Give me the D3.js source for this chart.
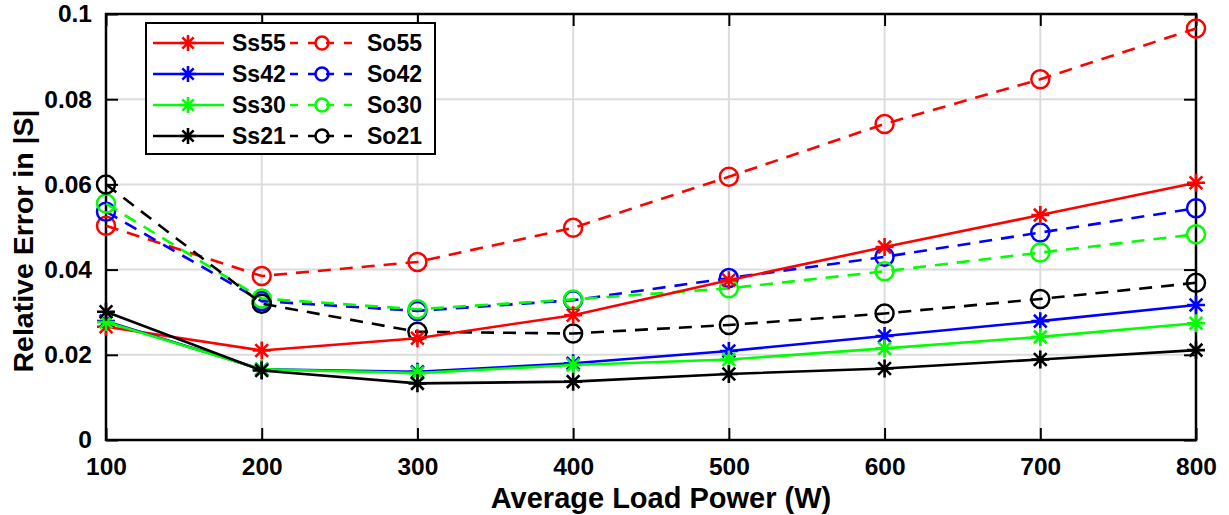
<!DOCTYPE html>
<html>
<head>
<meta charset="utf-8">
<script src="https://cdn.jsdelivr.net/npm/d3@7"></script>
<style>
  body { margin: 0; background: #fff; }
  text { font-family: "Liberation Sans", Arial, sans-serif; font-weight: bold; }
</style>
</head>
<body>
<script>
// Data
const power = [100, 200, 300, 400, 500, 600, 700, 800];
const ss55 = [0.0266, 0.0210, 0.0239, 0.0293, 0.0375, 0.0453, 0.0528, 0.0604];
const ss42 = [0.0279, 0.0166, 0.0160, 0.0180, 0.0209, 0.0244, 0.0279, 0.0317];
const ss30 = [0.0277, 0.0166, 0.0157, 0.0176, 0.0189, 0.0215, 0.0242, 0.0274];
const ss21 = [0.0301, 0.0163, 0.0133, 0.0137, 0.0155, 0.0168, 0.0189, 0.0211];
const so55 = [0.0503, 0.0385, 0.0418, 0.0498, 0.0618, 0.0742, 0.0847, 0.0966];
const so42 = [0.0536, 0.0326, 0.0303, 0.0328, 0.0380, 0.0430, 0.0487, 0.0544];
const so30 = [0.0555, 0.0332, 0.0307, 0.0330, 0.0356, 0.0396, 0.0440, 0.0483];
const so21 = [0.0600, 0.0320, 0.0254, 0.0250, 0.0270, 0.0297, 0.0331, 0.0369];
const yTicks = [0, 0.02, 0.04, 0.06, 0.08, 0.1];

const series = [
  { name: 'Ss55', values: ss55, color: '#ff0000', dashed: false },
  { name: 'So55', values: so55, color: '#ff0000', dashed: true },
  { name: 'Ss42', values: ss42, color: '#0000ff', dashed: false },
  { name: 'So42', values: so42, color: '#0000ff', dashed: true },
  { name: 'Ss30', values: ss30, color: '#00ff00', dashed: false },
  { name: 'So30', values: so30, color: '#00ff00', dashed: true },
  { name: 'Ss21', values: ss21, color: '#000000', dashed: false },
  { name: 'So21', values: so21, color: '#000000', dashed: true }
];

const width = 1229;
const height = 515;
const margin = { left: 106, right: 33, top: 14, bottom: 75 };

const x = d3.scaleLinear().domain([100, 800]).range([margin.left, width - margin.right]);
const y = d3.scaleLinear().domain([0, 0.1]).range([height - margin.bottom, margin.top]);

const svg = d3.select('body').append('svg')
  .attr('width', width)
  .attr('height', height);

// grid
const grid = svg.append('g');
grid.selectAll('.gx').data(power).enter().append('line')
  .attr('x1', d => x(d)).attr('x2', d => x(d))
  .attr('y1', y(0)).attr('y2', y(0.1))
  .attr('stroke', '#dcdcdc').attr('stroke-width', 2);
grid.selectAll('.gy').data(yTicks).enter().append('line')
  .attr('x1', x(100)).attr('x2', x(800))
  .attr('y1', d => y(d)).attr('y2', d => y(d))
  .attr('stroke', '#dcdcdc').attr('stroke-width', 2);

// axes (ticks inward, box)
const tickLen = 12;
const tickFont = g => g.selectAll('text').attr('font-size', 24.5).attr('fill', '#000')
  .style('font-family', '"Liberation Sans", Arial, sans-serif').style('font-weight', 'bold');

svg.append('g')
  .attr('transform', `translate(0,${y(0)})`)
  .call(d3.axisBottom(x).tickValues(power).tickSizeInner(-tickLen).tickSizeOuter(0).tickPadding(18))
  .call(g => g.select('.domain').remove())
  .call(g => g.selectAll('line').attr('stroke', '#000').attr('stroke-width', 2))
  .call(tickFont);

svg.append('g')
  .attr('transform', `translate(0,${y(0.1)})`)
  .call(d3.axisTop(x).tickValues(power).tickSizeInner(-tickLen).tickSizeOuter(0).tickFormat(''))
  .call(g => g.select('.domain').remove())
  .call(g => g.selectAll('line').attr('stroke', '#000').attr('stroke-width', 2));

svg.append('g')
  .attr('transform', `translate(${x(100)},0)`)
  .call(d3.axisLeft(y).tickValues(yTicks).tickSizeInner(-tickLen).tickSizeOuter(0).tickPadding(14)
    .tickFormat(d => d === 0 ? '0' : d3.format('~g')(d)))
  .call(g => g.select('.domain').remove())
  .call(g => g.selectAll('line').attr('stroke', '#000').attr('stroke-width', 2))
  .call(tickFont);

svg.append('g')
  .attr('transform', `translate(${x(800)},0)`)
  .call(d3.axisRight(y).tickValues(yTicks).tickSizeInner(-tickLen).tickSizeOuter(0).tickFormat(''))
  .call(g => g.select('.domain').remove())
  .call(g => g.selectAll('line').attr('stroke', '#000').attr('stroke-width', 2));

svg.append('rect')
  .attr('x', x(100)).attr('y', y(0.1))
  .attr('width', x(800) - x(100)).attr('height', y(0) - y(0.1))
  .attr('fill', 'none').attr('stroke', '#000').attr('stroke-width', 2.5);

// axis labels
svg.append('text')
  .attr('x', 661).attr('y', 508)
  .attr('text-anchor', 'middle').attr('font-size', 29)
  .text('Average Load Power (W)');
svg.append('text')
  .attr('transform', 'translate(33,241) rotate(-90)')
  .attr('text-anchor', 'middle').attr('font-size', 28.5)
  .text('Relative Error in |S|');

// markers
const star = (g, cx, cy, color, r) => {
  const d = r * Math.SQRT1_2;
  const path = `M${cx - r},${cy}L${cx + r},${cy}M${cx},${cy - r}L${cx},${cy + r}` +
    `M${cx - d},${cy - d}L${cx + d},${cy + d}M${cx - d},${cy + d}L${cx + d},${cy - d}`;
  g.append('path').attr('d', path).attr('stroke', color).attr('stroke-width', 2.6).attr('fill', 'none');
};
const circle = (g, cx, cy, color, r) => {
  g.append('circle').attr('cx', cx).attr('cy', cy).attr('r', r)
    .attr('fill', 'none').attr('stroke', color).attr('stroke-width', 2.5);
};

const line = d3.line().x((d, i) => x(power[i])).y(d => y(d));
const plotG = svg.append('g');
const drawOrder = [1, 3, 5, 7, 0, 2, 4, 6];
drawOrder.forEach(k => {
  const s = series[k];
  const g = plotG.append('g');
  g.append('path')
    .attr('d', line(s.values))
    .attr('fill', 'none')
    .attr('stroke', s.color)
    .attr('stroke-width', 2.6)
    .attr('stroke-dasharray', s.dashed ? '13,9' : null);
  s.values.forEach((v, i) => {
    if (s.dashed) circle(g, x(power[i]), y(v), s.color, 9);
    else star(g, x(power[i]), y(v), s.color, 9);
  });
});

// legend
const leg = svg.append('g');
leg.append('rect')
  .attr('x', 146).attr('y', 23).attr('width', 289).attr('height', 131)
  .attr('fill', '#fff').attr('stroke', '#000').attr('stroke-width', 2);
series.forEach((s, k) => {
  const row = Math.floor(k / 2);
  const cy = 43 + row * 31;
  const g = leg.append('g');
  if (!s.dashed) {
    g.append('line').attr('x1', 153).attr('x2', 224).attr('y1', cy).attr('y2', cy)
      .attr('stroke', s.color).attr('stroke-width', 2.6);
    star(g, 188, cy, s.color, 8);
    g.append('text').attr('x', 232).attr('y', cy + 8).attr('font-size', 23).text(s.name);
  } else {
    g.append('line').attr('x1', 290).attr('x2', 357).attr('y1', cy).attr('y2', cy)
      .attr('stroke', s.color).attr('stroke-width', 2.6).attr('stroke-dasharray', '8,10');
    circle(g, 322, cy, s.color, 6.5);
    g.append('text').attr('x', 367).attr('y', cy + 8).attr('font-size', 23).text(s.name);
  }
});
</script>
</body>
</html>
